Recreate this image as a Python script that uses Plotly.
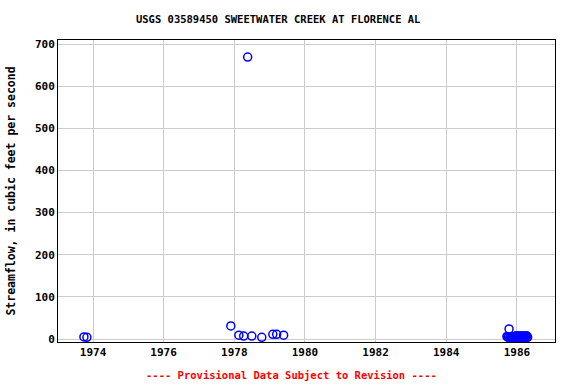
import plotly.graph_objects as go

dates = [
    "1973-09-29", "1973-10-30",
    "1977-11-26", "1978-02-17", "1978-04-08", "1978-05-19", "1978-07-01",
    "1978-10-12", "1979-02-03", "1979-03-15", "1979-05-26",
    "1985-09-20", "1985-09-27", "1985-10-04", "1985-10-12", "1985-10-18",
    "1985-10-25", "1985-11-01", "1985-11-08", "1985-11-15", "1985-11-22",
    "1985-11-29", "1985-12-06", "1985-12-13", "1985-12-20", "1985-12-27",
    "1986-01-03", "1986-01-10", "1986-01-17", "1986-01-24", "1986-01-31",
    "1986-02-07", "1986-02-14", "1986-02-21", "1986-02-28", "1986-03-07",
    "1986-03-14", "1986-03-21", "1986-03-28", "1986-04-04", "1986-04-11",
    "1986-04-18", "1986-04-22",
]
flows = [
    5, 4,
    31, 9, 7, 669, 7,
    4, 11, 11, 9,
    6, 5, 4, 24, 3,
    4, 3, 5, 2, 4,
    6, 3, 5, 7, 4,
    8, 5, 6, 3, 7,
    4, 5, 8, 6, 3,
    5, 7, 4, 6, 8,
    5, 4,
]
tick_vals = ["1974-01-01", "1976-01-01", "1978-01-01", "1980-01-01",
             "1982-01-01", "1984-01-01", "1986-01-01"]
tick_text = ["1974", "1976", "1978", "1980", "1982", "1984", "1986"]
y_ticks = [0, 100, 200, 300, 400, 500, 600, 700]

font = "DejaVu Sans Mono"

fig = go.Figure()
fig.add_trace(go.Scatter(
    x=dates, y=flows, mode="markers",
    marker=dict(symbol="circle-open", size=8, color="#0000ff",
                line=dict(width=1.5, color="#0000ff")),
    showlegend=False,
))

fig.update_layout(
    width=576, height=384,
    margin=dict(l=58, r=21, t=40, b=42),
    paper_bgcolor="white", plot_bgcolor="white",
    title=dict(text="<b>USGS 03589450 SWEETWATER CREEK AT FLORENCE AL</b>",
               x=0.483, xanchor="center", y=0.95, yanchor="middle",
               font=dict(family=font, size=10.5, color="black")),
    xaxis=dict(type="date", range=["1973-01-04", "1987-01-30"],
               tickvals=tick_vals, ticktext=["<b>%s</b>" % t for t in tick_text],
               showgrid=True, gridcolor="#cccccc", gridwidth=1,
               showline=True, linecolor="black", linewidth=1, mirror=True,
               ticks="", zeroline=False,
               tickfont=dict(family=font, size=11, color="black")),
    yaxis=dict(range=[-7.1, 709.5], tickvals=y_ticks,
               ticktext=["<b>%d</b>" % v for v in y_ticks],
               showgrid=True, gridcolor="#cccccc", gridwidth=1,
               showline=True, linecolor="black", linewidth=1, mirror=True,
               ticks="", zeroline=False,
               tickfont=dict(family=font, size=11, color="black"),
               title=dict(text="<b>Streamflow, in cubic feet per second</b>",
                          font=dict(family=font, size=11.5, color="black"),
                          standoff=16)),
    annotations=[dict(text="<b>---- Provisional Data Subject to Revision ----</b>",
                      xref="paper", yref="paper", x=0.470, y=-0.11,
                      xanchor="center", yanchor="middle", showarrow=False,
                      font=dict(family=font, size=10.5, color="red"))],
)

fig.write_html("out.html")
